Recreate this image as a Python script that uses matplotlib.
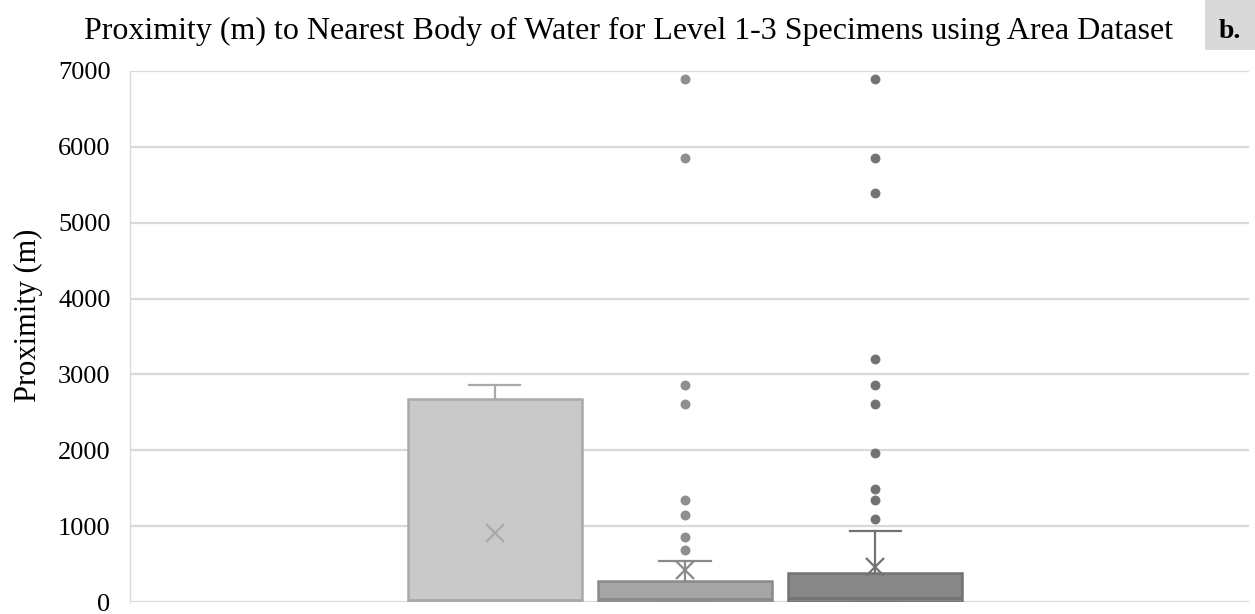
import matplotlib.pyplot as plt

# Summary statistics per group (m)
groups = ["Level 1", "Level 2", "Level 3"]
q1 = [5, 5, 5]
median = [26, 44, 57]
q3 = [2672, 281, 386]
whisker_low = [0, 0, 0]
whisker_high = [2856, 540, 936]
means = [905, 422, 466]
outliers = [
    [],
    [6890, 5850, 2860, 2610, 1345, 1147, 861, 686],
    [6890, 5850, 5390, 3203, 2860, 2610, 1969, 1490, 1345, 1090],
]
yticks = [0, 1000, 2000, 3000, 4000, 5000, 6000, 7000]

fills = ["#c9c9c9", "#a5a5a5", "#878787"]
edges = ["#a9a9a9", "#8a8a8a", "#727272"]
dots = ["#8f8f8f", "#8f8f8f", "#727272"]

plt.rcParams["font.family"] = ["Liberation Serif", "DejaVu Serif"]

fig = plt.figure(figsize=(12.55, 6.14), dpi=100)
ax = fig.add_axes([0.1036, 0.0195, 0.892, 0.865])

for i in range(len(groups)):
    stats = [{
        "label": groups[i], "q1": q1[i], "med": median[i], "q3": q3[i],
        "whislo": whisker_low[i], "whishi": whisker_high[i],
        "mean": means[i], "fliers": outliers[i],
    }]
    ax.bxp(
        stats, positions=[i], widths=0.915, patch_artist=True,
        showmeans=True, meanline=False,
        boxprops=dict(facecolor=fills[i], edgecolor=edges[i], linewidth=1.8),
        medianprops=dict(color=edges[i], linewidth=2.0),
        whiskerprops=dict(color=edges[i], linewidth=1.6),
        capprops=dict(color=edges[i], linewidth=1.6),
        capwidths=0.27,
        meanprops=dict(marker="x", markersize=13, markeredgecolor=edges[i],
                       markeredgewidth=1.6),
        flierprops=dict(marker="o", markersize=6.5, markerfacecolor=dots[i],
                        markeredgecolor=edges[i], markeredgewidth=0.6),
        zorder=3,
    )

ax.set_xlim(-1.915, 3.965)
ax.set_ylim(0, 7000)
ax.set_yticks(yticks)
ax.set_yticklabels([str(v) for v in yticks], fontsize=19)
ax.set_xticks([])
ax.tick_params(axis="y", length=0, pad=14)
ax.grid(axis="y", color="#d9d9d9", linewidth=1.6, zorder=0)
ax.set_axisbelow(True)
for side in ["top", "right", "bottom"]:
    ax.spines[side].set_visible(False)
ax.spines["left"].set_color("#d9d9d9")
ax.spines["left"].set_linewidth(1.0)

ax.set_ylabel("Proximity (m)", fontsize=22)
ax.yaxis.set_label_coords(-0.078, 0.54)
fig.text(0.501, 0.949, "Proximity (m) to Nearest Body of Water for Level 1-3 Specimens using Area Dataset",
         ha="center", va="center", fontsize=23)

# panel tag in the top-right corner
fig.patches.append(plt.Rectangle((0.9605, 0.918), 0.0395, 0.082, transform=fig.transFigure,
                                 facecolor="#d9d9d9", edgecolor="none"))
fig.text(0.98, 0.948, "b.", ha="center", va="center", fontsize=20, fontweight="bold")

fig.savefig("out.png", dpi=100)
